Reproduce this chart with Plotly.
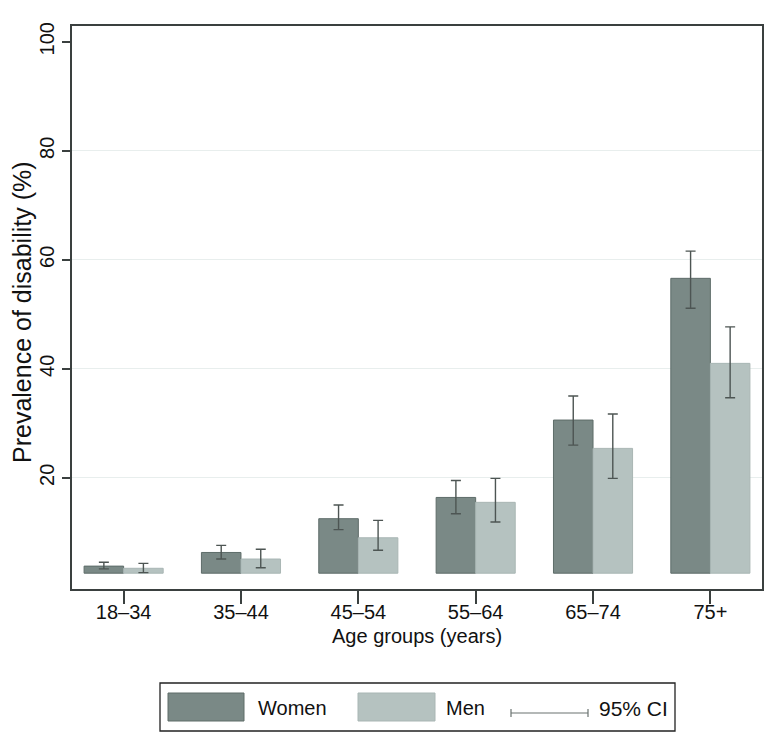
import plotly.graph_objects as go

# ---- data ----
categories = ["18–34", "35–44", "45–54", "55–64", "65–74", "75+"]
women = [3.8, 6.3, 12.5, 16.4, 30.6, 56.6]
women_lo = [3.3, 5.1, 10.5, 13.4, 26.0, 51.1]
women_hi = [4.5, 7.6, 15.0, 19.5, 35.0, 61.6]
men = [3.4, 5.1, 9.0, 15.5, 25.4, 41.0]
men_lo = [2.6, 3.5, 6.7, 11.9, 19.9, 34.7]
men_hi = [4.3, 6.9, 12.2, 19.9, 31.7, 47.7]
y_ticks = [20, 40, 60, 80, 100]
grid_vals = [20, 40, 60, 80]
BAR_BASE = 2.5

# ---- style ----
W, H = 781, 743
ML, MR, MT, MB = 72, 19, 26, 154
PW, PH = W - ML - MR, H - MT - MB
FONT = "Liberation Sans, Arial, Helvetica, sans-serif"
C_WOMEN, C_WOMEN_LINE = "#7a8986", "#5e6c69"
C_MEN, C_MEN_LINE = "#b5c2c0", "#a9b6b4"
C_ERR = "#4d5553"
C_AXIS = "#3a403f"


def px(x):
    return (x - ML) / PW


def py(y):
    return (MT + PH - y) / PH


def bar_trace(name, vals, lo, hi, fill, line):
    return go.Bar(
        name=name,
        x=categories,
        y=[v - BAR_BASE for v in vals],
        base=BAR_BASE,
        marker=dict(color=fill, line=dict(color=line, width=1)),
        error_y=dict(
            type="data",
            symmetric=False,
            array=[h - v for h, v in zip(hi, vals)],
            arrayminus=[v - l for v, l in zip(vals, lo)],
            color=C_ERR,
            thickness=1.4,
            width=5,
        ),
        showlegend=False,
    )


fig = go.Figure()
fig.add_trace(bar_trace("Women", women, women_lo, women_hi, C_WOMEN, C_WOMEN_LINE))
fig.add_trace(bar_trace("Men", men, men_lo, men_hi, C_MEN, C_MEN_LINE))

fig.update_layout(
    width=W,
    height=H,
    autosize=False,
    margin=dict(l=ML, r=MR, t=MT, b=MB),
    paper_bgcolor="white",
    plot_bgcolor="white",
    barmode="group",
    bargap=0.326,
    bargroupgap=0,
    font=dict(family=FONT, color="#111111"),
    xaxis=dict(
        type="category",
        range=[-0.44, 5.44],
        showline=True,
        linecolor=C_AXIS,
        linewidth=1.5,
        mirror=True,
        ticks="outside",
        ticklen=13,
        tickwidth=1.5,
        tickcolor=C_AXIS,
        ticklabelstandoff=-9,
        tickfont=dict(size=20, family=FONT, color="#111111"),
        showgrid=False,
        zeroline=False,
    ),
    yaxis=dict(
        range=[-0.4, 102.9],
        tickvals=y_ticks,
        tickangle=-90,
        showline=True,
        linecolor=C_AXIS,
        linewidth=1.5,
        mirror=True,
        ticks="outside",
        ticklen=8,
        tickwidth=1.5,
        tickcolor=C_AXIS,
        tickfont=dict(size=20, family=FONT, color="#111111"),
        showgrid=False,
        zeroline=False,
    ),
    yaxis2=dict(
        range=[-0.4, 102.9],
        overlaying="y",
        tickvals=grid_vals,
        showgrid=True,
        gridcolor="#e8eeed",
        gridwidth=1,
        showticklabels=False,
        ticks="",
        zeroline=False,
        layer="below traces",
    ),
)

# invisible trace to activate the grid axis
fig.add_trace(go.Scatter(x=[categories[0]], y=[None], yaxis="y2", showlegend=False,
                         hoverinfo="skip", mode="markers"))

# axis titles
fig.add_annotation(text="Age groups (years)", xref="paper", yref="paper",
                   x=px(417), y=py(636), xanchor="center", yanchor="middle",
                   showarrow=False, font=dict(size=20, family=FONT, color="#111111"))
fig.add_annotation(text="Prevalence of disability (%)", xref="paper", yref="paper",
                   x=px(22), y=py(312), xanchor="center", yanchor="middle",
                   textangle=-90, showarrow=False,
                   font=dict(size=25, family=FONT, color="#111111"))

# manual legend (Stata style)
shapes = [
    dict(type="rect", xref="paper", yref="paper", x0=px(160), x1=px(675),
         y0=py(683), y1=py(731), line=dict(color="#222222", width=1.3), fillcolor="white"),
    dict(type="rect", xref="paper", yref="paper", x0=px(168), x1=px(244),
         y0=py(693), y1=py(721), line=dict(color=C_WOMEN_LINE, width=1), fillcolor=C_WOMEN),
    dict(type="rect", xref="paper", yref="paper", x0=px(358), x1=px(435),
         y0=py(693), y1=py(721), line=dict(color=C_MEN_LINE, width=1), fillcolor=C_MEN),
    dict(type="line", xref="paper", yref="paper", x0=px(511), x1=px(588),
         y0=py(713), y1=py(713), line=dict(color="#6a7270", width=1.2)),
    dict(type="line", xref="paper", yref="paper", x0=px(511), x1=px(511),
         y0=py(709), y1=py(717), line=dict(color="#6a7270", width=1.2)),
    dict(type="line", xref="paper", yref="paper", x0=px(588), x1=px(588),
         y0=py(709), y1=py(717), line=dict(color="#6a7270", width=1.2)),
]
fig.update_layout(shapes=shapes)

for label, left, size in [("Women", 256, 20), ("Men", 444, 20), ("95% CI", 597, 21)]:
    fig.add_annotation(text=label, xref="paper", yref="paper", x=px(left), y=py(708),
                       xanchor="left", yanchor="middle", showarrow=False,
                       font=dict(size=size, family=FONT, color="#111111"))

# remove the default 8px page margin so the figure sits at the window's corner
fig.write_html("out.html", config={"displayModeBar": False},
               post_script="document.body.style.margin='0';")
